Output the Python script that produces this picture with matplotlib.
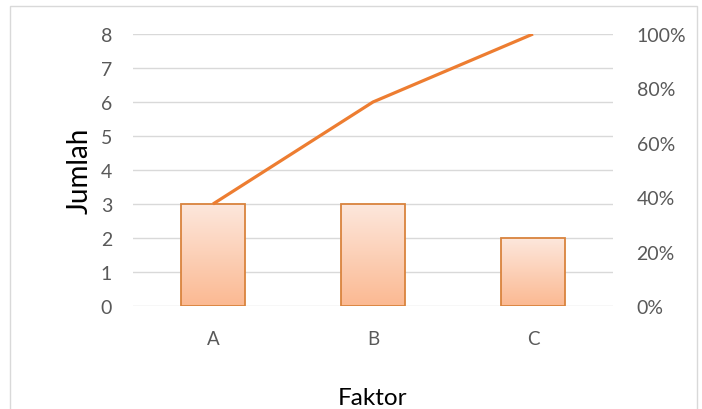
import numpy as np
import matplotlib
matplotlib.use("Agg")
import matplotlib.pyplot as plt
from matplotlib.patches import Rectangle
from matplotlib.colors import LinearSegmentedColormap
from matplotlib.ticker import FuncFormatter

# data pareto
faktor = ["A", "B", "C"]
jumlah = [3, 3, 2]
kumulatif = [0.375, 0.75, 1.0]

plt.rcParams["font.family"] = ["Lato", "DejaVu Sans"]

fig = plt.figure(figsize=(7.02, 4.10), dpi=100)
ax = fig.add_axes([133 / 702, 103 / 410, 480 / 702, 272 / 410])

# frame around the whole chart
fig.patches.append(Rectangle((10 / 702, -0.01), 687 / 702, (410 - 7) / 410 + 0.01,
                             transform=fig.transFigure, fill=False,
                             edgecolor="#D9D9D9", linewidth=1))

x = np.arange(len(faktor))
lebar = 0.4
grad = LinearSegmentedColormap.from_list("bar", ["#FBB992", "#FDE7DC"])
g = np.linspace(0, 1, 256).reshape(-1, 1)
for xi, h in zip(x, jumlah):
    ax.imshow(g, cmap=grad, origin="lower", aspect="auto",
              extent=[xi - lebar / 2, xi + lebar / 2, 0, h], zorder=2)
    ax.add_patch(Rectangle((xi - lebar / 2, 0), lebar, h, fill=False,
                           edgecolor="#D9833D", linewidth=1.3, zorder=3))

ax.set_xlim(-0.5, len(faktor) - 0.5)
ax.set_ylim(0, 8)
ax.set_yticks(range(0, 9))
ax.set_xticks(x)
ax.set_xticklabels(faktor)
ax.grid(axis="y", color="#D9D9D9", linewidth=1)
ax.set_axisbelow(True)
for s in ax.spines.values():
    s.set_visible(False)
ax.tick_params(axis="both", length=0, labelsize=14, colors="#595959")
ax.tick_params(axis="y", pad=15)
ax.tick_params(axis="x", pad=17, labelsize=13.5)
ax.set_ylabel("Jumlah", fontsize=20, color="black", labelpad=6)
ax.set_xlabel("Faktor", fontsize=17.5, color="black", labelpad=29)

ax2 = ax.twinx()
ax2.plot(x, kumulatif, color="#ED7D31", linewidth=2.3, solid_capstyle="butt", zorder=4)
ax2.set_ylim(0, 1)
ax2.set_yticks(np.linspace(0, 1, 6))
ax2.yaxis.set_major_formatter(FuncFormatter(lambda v, p: f"{v * 100:.0f}%"))
ax2.tick_params(axis="y", length=0, labelsize=14, colors="#595959", pad=17)
for s in ax2.spines.values():
    s.set_visible(False)

fig.savefig("out.png", dpi=100)
